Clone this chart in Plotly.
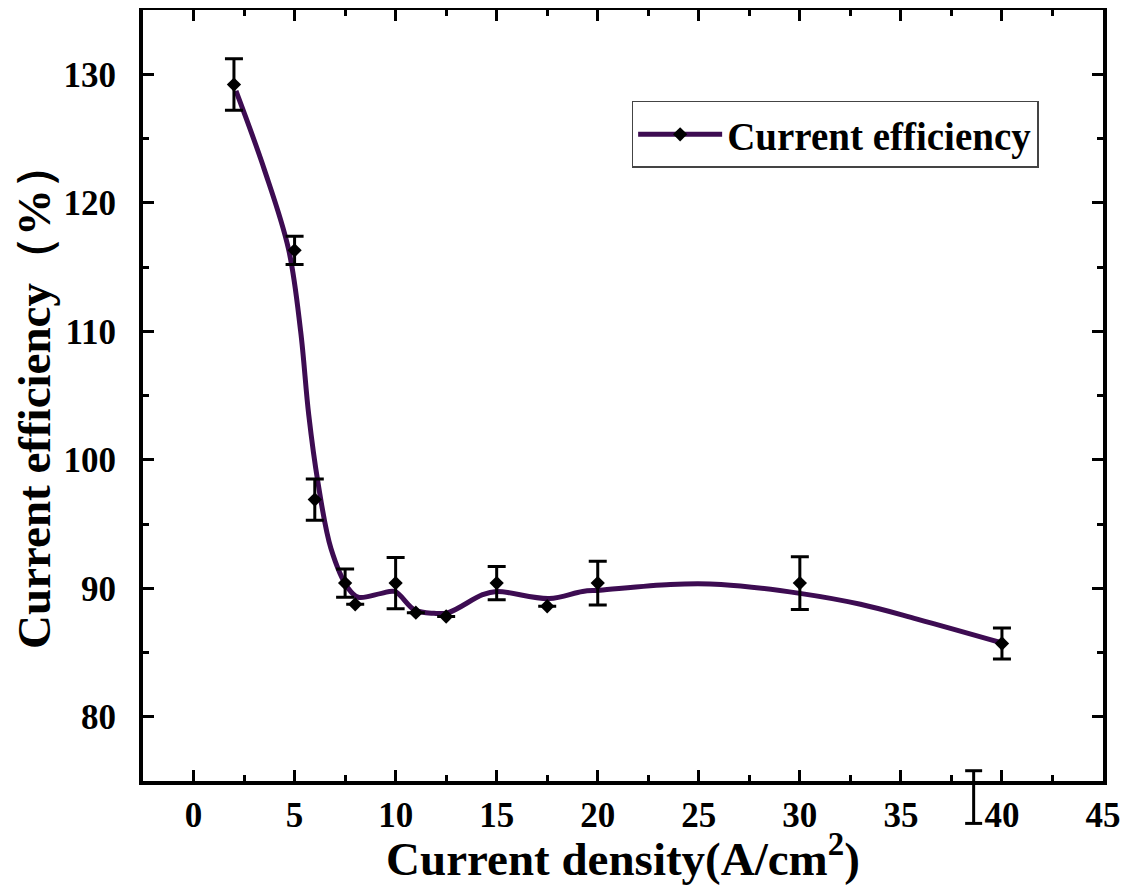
import plotly.graph_objects as go

# measured points
density = [2, 5, 6, 7.5, 8, 10, 11, 12.5, 15, 17.5, 20, 30, 40]
efficiency = [129.2, 116.3, 96.9, 90.4, 88.75, 90.4, 88.1, 87.8, 90.4, 88.6, 90.4, 90.4, 85.7]
err = [2.0, 1.1, 1.6, 1.1, 0, 2.0, 0, 0, 1.3, 0, 1.7, 2.05, 1.2]

# smoothed curve
curve_x = [2.1, 3.5, 4.7, 5.3, 5.7, 6.15, 6.8, 7.65, 8.15, 9.3, 9.95, 10.95, 11.9, 12.6, 14.3,
           15.0, 17.6, 19.25, 20.1, 23.6, 26.1, 30.0, 33.0, 35.8, 40.1]
curve_y = [128.7, 122.6, 116.4, 110.0, 103.5, 98.3, 93.1, 90.0, 89.3, 89.6, 89.75, 88.3, 88.05, 88.1, 89.5,
           89.75, 89.2, 89.75, 89.85, 90.3, 90.3, 89.6, 88.75, 87.6, 85.7]

# stray error bar seen crossing the bottom axis near x≈38.6
stray_x = 38.6
stray_y = 73.75
stray_err = 2.05

x_ticks = [0, 5, 10, 15, 20, 25, 30, 35, 40, 45]
y_ticks = [80, 90, 100, 110, 120, 130]
X_RANGE = [-2.5, 45]
Y_RANGE = [75, 135]

LINE = "#3d0c52"
FONT = "Liberation Serif"

fig = go.Figure()
fig.add_trace(go.Scatter(x=curve_x, y=curve_y, mode="lines",
                         line=dict(color=LINE, width=5, shape="spline", smoothing=1.0),
                         showlegend=False, hoverinfo="skip"))
fig.add_trace(go.Scatter(x=density, y=efficiency, mode="markers",
                         marker=dict(symbol="diamond", size=11, color="black"),
                         error_y=dict(type="data", array=err, visible=True, color="black", thickness=3, width=9),
                         showlegend=False))
fig.add_trace(go.Scatter(x=[None], y=[None], mode="lines+markers", name="Current efficiency",
                         line=dict(color=LINE, width=5),
                         marker=dict(symbol="diamond", size=11, color="black")))

# stray error bar (extends below the axis, so drawn as unclipped shapes)
def to_paper(v):
    return (v - Y_RANGE[0]) / (Y_RANGE[1] - Y_RANGE[0])

lo, hi = to_paper(stray_y - stray_err), to_paper(stray_y + stray_err)
cap = 0.42
fig.add_shape(type="line", xref="x", yref="paper", x0=stray_x, x1=stray_x, y0=lo, y1=hi,
              line=dict(color="black", width=3))
for yy in (lo, hi):
    fig.add_shape(type="line", xref="x", yref="paper", x0=stray_x - cap, x1=stray_x + cap, y0=yy, y1=yy,
                  line=dict(color="black", width=3))

axis_common = dict(showline=True, linecolor="black", linewidth=4, mirror="allticks",
                   ticks="inside", ticklen=11, tickwidth=3, tickcolor="black",
                   showgrid=False, zeroline=False, automargin=False,
                   tickfont=dict(family=FONT, size=35, color="black", weight="bold"))

fig.update_xaxes(range=X_RANGE, tickvals=x_ticks, ticktext=[str(v) for v in x_ticks],
                 minor=dict(ticks="inside", ticklen=6, tickwidth=3, dtick=2.5, tick0=0, tickcolor="black"),
                 title=dict(text="Current density(A/cm<sup>2</sup>)", standoff=8,
                            font=dict(family=FONT, size=47, color="black", weight="bold")),
                 ticklabelstandoff=0, **axis_common)
fig.update_yaxes(range=Y_RANGE, tickvals=y_ticks, ticktext=[str(v) for v in y_ticks],
                 minor=dict(ticks="inside", ticklen=6, tickwidth=3, dtick=5, tick0=0, tickcolor="black"),
                 title=dict(text="Current efficiency（%）", standoff=1,
                            font=dict(family=FONT, size=47, color="black", weight="bold")),
                 ticklabelstandoff=16, **axis_common)

# the page body adds an 8px offset, so the figure is 8px smaller than the window
fig.update_layout(width=1120, height=877, margin=dict(l=135, r=25, t=2, b=104),
                  paper_bgcolor="white", plot_bgcolor="white",
                  legend=dict(x=0.509, y=0.882, xanchor="left", yanchor="top",
                              bordercolor="#444", borderwidth=1.5, bgcolor="white",
                              font=dict(family=FONT, size=39, color="black", weight="bold"),
                              itemwidth=84))
fig.write_html("out.html")
